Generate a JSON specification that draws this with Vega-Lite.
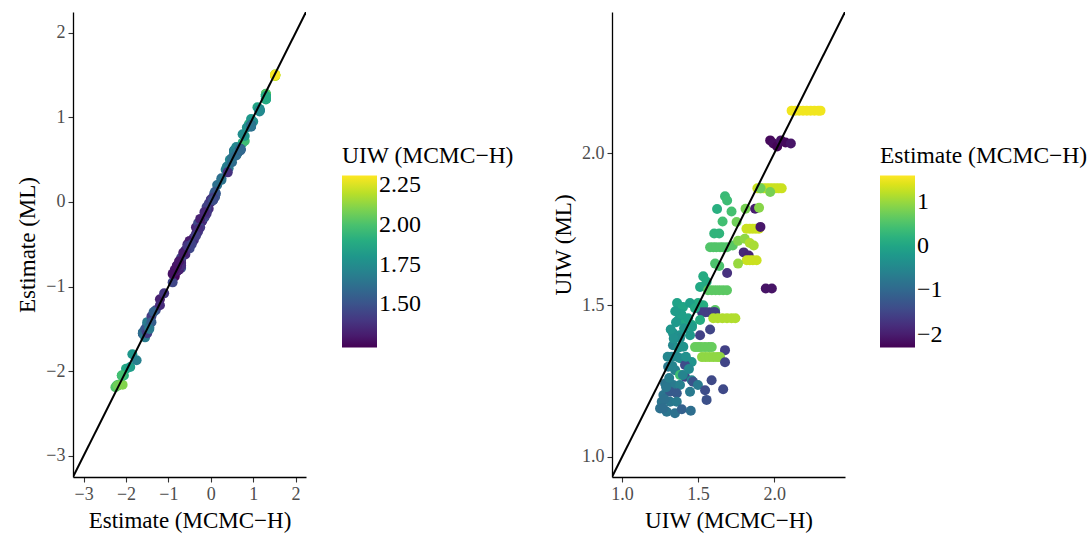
{
  "$schema": "https://vega.github.io/schema/vega-lite/v6.json",
  "background": "white",
  "padding": {"left": 16, "top": 12, "right": 5, "bottom": 5},
  "config": {
    "font": "Liberation Serif",
    "view": {"stroke": null},
    "axis": {
      "grid": false,
      "domainColor": "#000000",
      "domainWidth": 1.3,
      "tickColor": "#333333",
      "tickSize": 5,
      "tickWidth": 1.1,
      "labelFont": "Liberation Serif",
      "labelColor": "#4d4d4d",
      "labelFontSize": 18,
      "labelPadding": 3,
      "titleFont": "Liberation Serif",
      "titleFontSize": 23,
      "titleFontWeight": "normal",
      "titleColor": "#000000",
      "titlePadding": 6
    },
    "legend": {
      "titleFont": "Liberation Serif",
      "labelFont": "Liberation Serif",
      "titleFontSize": 23.5,
      "titleFontWeight": "normal",
      "titleColor": "#000000",
      "titlePadding": 8,
      "titleLimit": 500,
      "labelFontSize": 24,
      "labelColor": "#000000",
      "labelOffset": 10,
      "gradientLength": 172,
      "gradientThickness": 35,
      "gradientStrokeWidth": 0
    },
    "concat": {"spacing": 38}
  },
  "datasets": {
    "est": [
      {"em":1.52,"el":1.50,"um":2.115,"ul":2.141},
      {"em":1.52,"el":1.49,"um":2.14,"ul":2.141},
      {"em":1.52,"el":1.50,"um":2.165,"ul":2.141},
      {"em":1.52,"el":1.51,"um":2.19,"ul":2.141},
      {"em":1.52,"el":1.50,"um":2.215,"ul":2.141},
      {"em":1.52,"el":1.49,"um":2.24,"ul":2.141},
      {"em":1.52,"el":1.50,"um":2.265,"ul":2.141},
      {"em":1.52,"el":1.50,"um":2.29,"ul":2.141},
      {"em":1.52,"el":1.50,"um":2.305,"ul":2.141},
      {"em":-2.22,"el":-2.17,"um":1.974,"ul":2.043},
      {"em":-2.18,"el":-2.16,"um":1.995,"ul":2.033},
      {"em":-2.25,"el":-2.19,"um":2.02,"ul":2.023},
      {"em":-2.12,"el":-2.15,"um":2.045,"ul":2.043},
      {"em":-2.2,"el":-2.17,"um":2.075,"ul":2.036},
      {"em":-2.08,"el":-2.16,"um":2.11,"ul":2.033},
      {"em":1.3,"el":1.27,"um":1.89,"ul":1.885},
      {"em":1.3,"el":1.26,"um":1.91,"ul":1.885},
      {"em":1.3,"el":1.27,"um":1.93,"ul":1.885},
      {"em":1.3,"el":1.28,"um":1.95,"ul":1.885},
      {"em":1.3,"el":1.27,"um":1.97,"ul":1.885},
      {"em":1.3,"el":1.26,"um":1.99,"ul":1.885},
      {"em":1.3,"el":1.27,"um":2.01,"ul":1.885},
      {"em":1.3,"el":1.27,"um":2.03,"ul":1.885},
      {"em":1.3,"el":1.27,"um":2.05,"ul":1.885},
      {"em":0.75,"el":0.70,"um":1.911,"ul":1.885},
      {"em":0.8,"el":0.72,"um":1.974,"ul":1.873},
      {"em":0.35,"el":0.38,"um":1.677,"ul":1.859},
      {"em":0.38,"el":0.42,"um":1.691,"ul":1.845},
      {"em":0.15,"el":0.2,"um":1.625,"ul":1.817},
      {"em":0.45,"el":0.5,"um":1.72,"ul":1.809},
      {"em":0.42,"el":0.4,"um":1.661,"ul":1.776},
      {"em":0.25,"el":0.28,"um":1.606,"ul":1.736},
      {"em":0.25,"el":0.26,"um":1.639,"ul":1.736},
      {"em":0.55,"el":0.6,"um":1.579,"ul":1.691},
      {"em":0.55,"el":0.6,"um":1.6,"ul":1.691},
      {"em":0.55,"el":0.61,"um":1.62,"ul":1.691},
      {"em":0.55,"el":0.6,"um":1.645,"ul":1.691},
      {"em":0.55,"el":0.59,"um":1.665,"ul":1.691},
      {"em":0.55,"el":0.6,"um":1.69,"ul":1.691},
      {"em":0.6,"el":0.65,"um":1.728,"ul":1.697},
      {"em":0.5,"el":0.47,"um":1.612,"ul":1.637},
      {"em":0.5,"el":0.52,"um":1.639,"ul":1.629},
      {"em":0.1,"el":0.12,"um":1.534,"ul":1.595},
      {"em":0.1,"el":0.08,"um":1.556,"ul":1.577},
      {"em":0.05,"el":0.02,"um":1.513,"ul":1.56},
      {"em":0.08,"el":0.1,"um":1.546,"ul":1.565},
      {"em":0.62,"el":0.58,"um":1.565,"ul":1.549},
      {"em":0.62,"el":0.57,"um":1.59,"ul":1.549},
      {"em":0.62,"el":0.58,"um":1.615,"ul":1.549},
      {"em":0.62,"el":0.58,"um":1.64,"ul":1.549},
      {"em":0.62,"el":0.59,"um":1.665,"ul":1.549},
      {"em":0.62,"el":0.58,"um":1.69,"ul":1.549},
      {"em":0.12,"el":0.1,"um":1.534,"ul":1.5},
      {"em":0.1,"el":0.06,"um":1.5,"ul":1.507},
      {"em":0.6,"el":0.55,"um":1.612,"ul":1.484},
      {"em":0.8,"el":0.78,"um":1.812,"ul":1.818},
      {"em":-2.0,"el":-1.97,"um":1.875,"ul":1.818},
      {"em":0.9,"el":0.92,"um":1.901,"ul":1.821},
      {"em":0.75,"el":0.8,"um":1.753,"ul":1.774},
      {"em":1.3,"el":1.22,"um":1.818,"ul":1.752},
      {"em":1.3,"el":1.22,"um":1.84,"ul":1.752},
      {"em":1.3,"el":1.21,"um":1.86,"ul":1.752},
      {"em":1.3,"el":1.22,"um":1.88,"ul":1.752},
      {"em":1.3,"el":1.22,"um":1.9,"ul":1.752},
      {"em":-2.05,"el":-2.05,"um":1.91,"ul":1.758},
      {"em":0.85,"el":0.88,"um":1.763,"ul":1.712},
      {"em":0.95,"el":0.98,"um":1.807,"ul":1.719},
      {"em":1.15,"el":1.1,"um":1.84,"ul":1.705},
      {"em":1.1,"el":1.12,"um":1.866,"ul":1.697},
      {"em":-1.85,"el":-1.8,"um":1.8,"ul":1.674},
      {"em":-1.9,"el":-1.95,"um":1.833,"ul":1.664},
      {"em":1.3,"el":1.25,"um":1.82,"ul":1.648},
      {"em":1.3,"el":1.25,"um":1.84,"ul":1.648},
      {"em":1.3,"el":1.24,"um":1.86,"ul":1.648},
      {"em":1.3,"el":1.25,"um":1.885,"ul":1.648},
      {"em":1.0,"el":0.95,"um":1.763,"ul":1.637},
      {"em":-1.75,"el":-1.87,"um":1.691,"ul":1.606},
      {"em":-2.1,"el":-2.05,"um":1.945,"ul":1.555},
      {"em":-2.1,"el":-2.05,"um":1.985,"ul":1.555},
      {"em":-1.6,"el":-1.55,"um":1.526,"ul":1.477},
      {"em":-1.6,"el":-1.56,"um":1.55,"ul":1.477},
      {"em":-1.6,"el":-1.55,"um":1.574,"ul":1.477},
      {"em":-1.6,"el":-1.55,"um":1.6,"ul":1.477},
      {"em":-1.6,"el":-1.54,"um":1.612,"ul":1.477},
      {"em":1.15,"el":1.08,"um":1.6,"ul":1.457},
      {"em":1.15,"el":1.08,"um":1.63,"ul":1.457},
      {"em":1.15,"el":1.09,"um":1.66,"ul":1.457},
      {"em":1.15,"el":1.08,"um":1.69,"ul":1.457},
      {"em":1.15,"el":1.07,"um":1.72,"ul":1.457},
      {"em":1.15,"el":1.08,"um":1.745,"ul":1.457},
      {"em":0.1,"el":0.08,"um":1.513,"ul":1.451},
      {"em":-0.05,"el":-0.02,"um":1.425,"ul":1.444},
      {"em":0.0,"el":0.02,"um":1.37,"ul":1.45},
      {"em":0.0,"el":0.0,"um":1.4,"ul":1.447},
      {"em":0.05,"el":0.05,"um":1.43,"ul":1.44},
      {"em":0.05,"el":0.03,"um":1.46,"ul":1.435},
      {"em":-1.5,"el":-1.45,"um":1.579,"ul":1.42},
      {"em":-1.55,"el":-1.5,"um":1.513,"ul":1.401},
      {"em":-0.3,"el":-0.28,"um":1.381,"ul":1.401},
      {"em":-0.2,"el":-0.22,"um":1.447,"ul":1.401},
      {"em":0.7,"el":0.62,"um":1.48,"ul":1.362},
      {"em":0.7,"el":0.63,"um":1.5,"ul":1.362},
      {"em":0.7,"el":0.62,"um":1.52,"ul":1.362},
      {"em":0.7,"el":0.62,"um":1.545,"ul":1.362},
      {"em":0.7,"el":0.61,"um":1.57,"ul":1.362},
      {"em":0.7,"el":0.62,"um":1.59,"ul":1.362},
      {"em":-1.55,"el":-1.6,"um":1.677,"ul":1.352},
      {"em":0.95,"el":0.9,"um":1.526,"ul":1.329},
      {"em":0.95,"el":0.9,"um":1.55,"ul":1.329},
      {"em":0.95,"el":0.91,"um":1.575,"ul":1.329},
      {"em":0.95,"el":0.9,"um":1.6,"ul":1.329},
      {"em":0.95,"el":0.89,"um":1.625,"ul":1.329},
      {"em":0.95,"el":0.9,"um":1.645,"ul":1.329},
      {"em":-1.5,"el":-1.42,"um":1.677,"ul":1.312},
      {"em":-0.05,"el":-0.08,"um":1.362,"ul":1.507},
      {"em":0.0,"el":0.03,"um":1.401,"ul":1.494},
      {"em":-0.1,"el":-0.12,"um":1.447,"ul":1.507},
      {"em":0.05,"el":0.02,"um":1.48,"ul":1.49},
      {"em":-0.15,"el":-0.18,"um":1.381,"ul":1.467},
      {"em":-0.1,"el":-0.06,"um":1.434,"ul":1.457},
      {"em":-0.2,"el":-0.22,"um":1.355,"ul":1.444},
      {"em":-0.25,"el":-0.3,"um":1.408,"ul":1.424},
      {"em":-0.15,"el":-0.18,"um":1.46,"ul":1.428},
      {"em":-0.35,"el":-0.3,"um":1.335,"ul":1.408},
      {"em":-0.4,"el":-0.42,"um":1.381,"ul":1.391},
      {"em":-0.5,"el":-0.52,"um":1.335,"ul":1.368},
      {"em":-0.3,"el":-0.35,"um":1.403,"ul":1.363},
      {"em":-0.6,"el":-0.58,"um":1.327,"ul":1.33},
      {"em":-0.4,"el":-0.45,"um":1.381,"ul":1.325},
      {"em":-0.3,"el":-0.25,"um":1.458,"ul":1.313},
      {"em":-0.7,"el":-0.68,"um":1.303,"ul":1.297},
      {"em":-0.6,"el":-0.62,"um":1.349,"ul":1.286},
      {"em":-1.4,"el":-1.35,"um":1.414,"ul":1.303},
      {"em":-1.5,"el":-1.55,"um":1.414,"ul":1.264},
      {"em":0.4,"el":0.35,"um":1.381,"ul":1.27},
      {"em":-0.5,"el":-0.55,"um":1.458,"ul":1.253},
      {"em":-0.8,"el":-0.75,"um":1.283,"ul":1.242},
      {"em":-0.7,"el":-0.72,"um":1.337,"ul":1.237},
      {"em":-0.6,"el":-0.57,"um":1.381,"ul":1.237},
      {"em":-1.3,"el":-1.28,"um":1.467,"ul":1.248},
      {"em":-0.7,"el":-0.78,"um":1.499,"ul":1.237},
      {"em":-1.45,"el":-1.48,"um":1.589,"ul":1.253},
      {"em":-1.4,"el":-1.42,"um":1.546,"ul":1.22},
      {"em":-1.45,"el":-1.5,"um":1.665,"ul":1.223},
      {"em":-0.8,"el":-0.82,"um":1.272,"ul":1.204},
      {"em":-1.2,"el":-1.15,"um":1.316,"ul":1.215},
      {"em":-1.2,"el":-1.22,"um":1.36,"ul":1.21},
      {"em":-0.7,"el":-0.66,"um":1.447,"ul":1.215},
      {"em":-1.35,"el":-1.3,"um":1.556,"ul":1.188},
      {"em":-0.8,"el":-0.78,"um":1.261,"ul":1.182},
      {"em":-0.75,"el":-0.8,"um":1.316,"ul":1.182},
      {"em":-0.7,"el":-0.75,"um":1.36,"ul":1.182},
      {"em":-0.85,"el":-0.88,"um":1.25,"ul":1.16},
      {"em":-0.8,"el":-0.76,"um":1.294,"ul":1.149},
      {"em":-0.85,"el":-0.82,"um":1.348,"ul":1.144},
      {"em":-1.1,"el":-1.08,"um":1.393,"ul":1.157},
      {"em":-0.9,"el":-0.95,"um":1.452,"ul":1.152},
      {"em":-0.75,"el":-0.7,"um":1.29,"ul":1.23},
      {"em":-0.65,"el":-0.6,"um":1.31,"ul":1.26},
      {"em":-0.55,"el":-0.5,"um":1.33,"ul":1.3},
      {"em":-0.45,"el":-0.48,"um":1.36,"ul":1.33},
      {"em":-0.5,"el":-0.46,"um":1.3,"ul":1.33},
      {"em":-0.35,"el":-0.38,"um":1.34,"ul":1.39},
      {"em":-0.3,"el":-0.32,"um":1.37,"ul":1.36},
      {"em":-0.35,"el":-0.4,"um":1.42,"ul":1.33},
      {"em":-0.85,"el":-0.8,"um":1.28,"ul":1.19},
      {"em":-0.55,"el":-0.52,"um":1.4,"ul":1.27},
      {"em":-0.45,"el":-0.5,"um":1.44,"ul":1.29},
      {"em":-0.25,"el":-0.2,"um":1.32,"ul":1.42},
      {"em":-0.1,"el":-0.14,"um":1.39,"ul":1.47},
      {"em":-0.15,"el":-0.12,"um":1.35,"ul":1.48},
      {"em":-0.9,"el":-0.85,"um":1.27,"ul":1.16}
    ],
    "diag1": [{"v": -3.25}, {"v": 2.245}],
    "diag2": [{"v": 0.934}, {"v": 2.466}]
  },
  "hconcat": [
    {
      "width": 233,
      "height": 465,
      "layer": [
        {
          "data": {"name": "est"},
          "mark": {"type": "circle", "size": 100, "opacity": 1, "strokeWidth": 0},
          "encoding": {
            "x": {"field": "em", "type": "quantitative", "title": "Estimate (MCMC−H)",
                  "scale": {"domain": [-3.25, 2.245], "nice": false, "zero": false},
                  "axis": {"values": [-3, -2, -1, 0, 1, 2], "format": "d"}},
            "y": {"field": "el", "type": "quantitative", "title": "Estimate (ML)",
                  "scale": {"domain": [-3.25, 2.245], "nice": false, "zero": false},
                  "axis": {"values": [-3, -2, -1, 0, 1, 2], "format": "d"}},
            "color": {"field": "um", "type": "quantitative", "title": "UIW (MCMC−H)",
                      "scale": {"scheme": "viridis", "domain": [1.225, 2.313]},
                      "legend": {"orient": "none", "legendX": 269, "legendY": 132, "values": [1.5, 1.75, 2.0, 2.25], "format": ".2f", "direction": "vertical"}}
          }
        },
        {
          "data": {"name": "diag1"},
          "mark": {"type": "line", "color": "#000000", "strokeWidth": 2, "clip": true},
          "encoding": {
            "x": {"field": "v", "type": "quantitative"},
            "y": {"field": "v", "type": "quantitative"}
          }
        }
      ]
    },
    {
      "width": 233,
      "height": 465,
      "layer": [
        {
          "data": {"name": "est"},
          "mark": {"type": "circle", "size": 100, "opacity": 1, "strokeWidth": 0},
          "encoding": {
            "x": {"field": "um", "type": "quantitative", "title": "UIW (MCMC−H)",
                  "scale": {"domain": [0.934, 2.466], "nice": false, "zero": false},
                  "axis": {"values": [1.0, 1.5, 2.0], "format": ".1f"}},
            "y": {"field": "ul", "type": "quantitative", "title": "UIW (ML)",
                  "scale": {"domain": [0.934, 2.466], "nice": false, "zero": false},
                  "axis": {"values": [1.0, 1.5, 2.0], "format": ".1f"}},
            "color": {"field": "em", "type": "quantitative", "title": "Estimate (MCMC−H)",
                      "scale": {"scheme": "viridis", "domain": [-2.29, 1.6]},
                      "legend": {"orient": "none", "legendX": 268, "legendY": 132, "values": [-2, -1, 0, 1], "format": "d", "direction": "vertical"}}
          }
        },
        {
          "data": {"name": "diag2"},
          "mark": {"type": "line", "color": "#000000", "strokeWidth": 2, "clip": true},
          "encoding": {
            "x": {"field": "v", "type": "quantitative"},
            "y": {"field": "v", "type": "quantitative"}
          }
        }
      ]
    }
  ],
  "resolve": {"scale": {"color": "independent"}, "legend": {"color": "independent"}}
}
